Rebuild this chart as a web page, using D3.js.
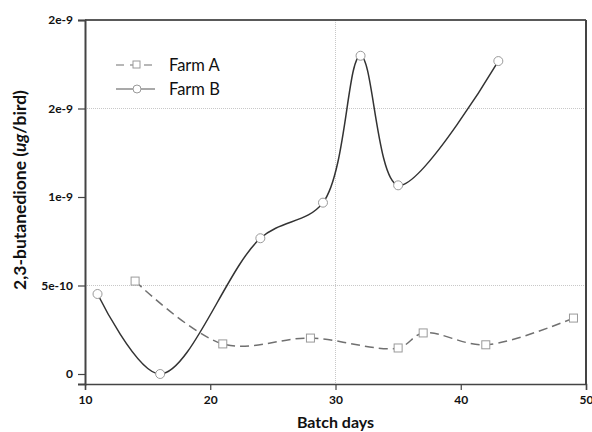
<!DOCTYPE html>
<html>
<head>
<meta charset="utf-8">
<script src="https://cdn.jsdelivr.net/npm/d3@7"></script>
<style>
  body { margin: 0; background: #fff; }
  text { font-family: Lato, 'Open Sans', sans-serif; }
</style>
</head>
<body>
<div id="chart"></div>
<script>
// Data
const farmADays = [14, 21, 28, 35, 37, 42, 49]
const farmAValues = [5.25e-10, 1.7e-10, 2.03e-10, 1.47e-10, 2.32e-10, 1.65e-10, 3.16e-10]
const farmBDays = [11, 16, 24, 29, 32, 35, 43]
const farmBValues = [4.52e-10, 0, 7.67e-10, 9.68e-10, 1.798e-9, 1.066e-9, 1.768e-9]
const xTicks = [10, 20, 30, 40, 50]
const yTicks = [0, 5e-10, 1e-9, 1.5e-9, 2e-9]
const yTickLabels = ['0', '5e-10', '1e-9', '2e-9', '2e-9']
const seriesNames = ['Farm A', 'Farm B']

// Our canvas
const width = 592,
  height = 432
const plotLeft = 85, plotRight = 586, plotTop = 20, plotBottom = 384

let svg = d3.select('#chart')
  .append('svg')
  .attr('width', width)
  .attr('height', height)

const xScale = d3.scaleLinear()
  .domain([10, 50])
  .range([plotLeft, plotRight])

const yScale = d3.scaleLinear()
  .domain([-5.65e-11, 2e-9])
  .range([plotBottom, plotTop])

// grid lines (only a few in the original)
svg.append('line')
  .attr('x1', xScale(30)).attr('x2', xScale(30))
  .attr('y1', plotTop).attr('y2', plotBottom)
  .attr('stroke', '#c8c8c8').attr('stroke-dasharray', '1,1')
;[5e-10, 1.5e-9].forEach(v => {
  svg.append('line')
    .attr('x1', plotLeft).attr('x2', plotRight)
    .attr('y1', yScale(v)).attr('y2', yScale(v))
    .attr('stroke', '#c8c8c8').attr('stroke-dasharray', '1,1')
})

// frame
svg.append('line')
  .attr('x1', plotLeft).attr('x2', plotRight)
  .attr('y1', plotTop).attr('y2', plotTop)
  .attr('stroke', '#222').attr('stroke-width', 1.5)
svg.append('line')
  .attr('x1', plotRight).attr('x2', plotRight)
  .attr('y1', plotTop).attr('y2', plotBottom)
  .attr('stroke', '#444').attr('stroke-width', 2)

// axes
const xAxis = d3.axisBottom(xScale)
  .tickValues(xTicks)
  .tickSize(6)
  .tickPadding(5)
  .tickFormat(d3.format('d'))

const yAxis = d3.axisLeft(yScale)
  .tickValues(yTicks)
  .tickSize(7)
  .tickPadding(5)
  .tickFormat((d, i) => yTickLabels[i])

let xAxisGroup = svg.append('g')
  .attr('transform', `translate(0, ${plotBottom})`)
  .call(xAxis)
let yAxisGroup = svg.append('g')
  .attr('transform', `translate(${plotLeft}, 0)`)
  .call(yAxis)

xAxisGroup.select('.domain').attr('stroke', '#444').attr('stroke-width', 1.5)
yAxisGroup.select('.domain').attr('stroke', '#444').attr('stroke-width', 2)
svg.selectAll('.tick line').attr('stroke', '#444').attr('stroke-width', 1.2)
svg.selectAll('.tick text')
  .attr('fill', '#111')
  .style('font-size', '12px')
  .style('font-weight', 'bold')

// axis titles
svg.append('text')
  .attr('x', (plotLeft + plotRight) / 2)
  .attr('y', 428)
  .attr('text-anchor', 'middle')
  .style('font-size', '16px')
  .style('font-weight', 'bold')
  .attr('fill', '#111')
  .text('Batch days')

let yTitle = svg.append('text')
  .attr('transform', 'translate(26, 190) rotate(-90)')
  .attr('text-anchor', 'middle')
  .style('font-size', '17.5px')
  .style('font-weight', 'bold')
  .attr('fill', '#111')
yTitle.append('tspan').text('2,3-butanedione (')
yTitle.append('tspan').style('font-style', 'italic').text('ug')
yTitle.append('tspan').text('/bird)')

// lines
const line = d3.line()
  .x(d => xScale(d[0]))
  .y(d => yScale(d[1]))
  .curve(d3.curveCatmullRom.alpha(0.5))

const farmA = farmADays.map((d, i) => [d, farmAValues[i]])
const farmB = farmBDays.map((d, i) => [d, farmBValues[i]])

svg.append('path')
  .datum(farmA)
  .attr('d', line)
  .attr('fill', 'none')
  .attr('stroke', '#707070')
  .attr('stroke-width', 1.5)
  .attr('stroke-dasharray', '9,5')

svg.append('path')
  .datum(farmB)
  .attr('d', line)
  .attr('fill', 'none')
  .attr('stroke', '#333')
  .attr('stroke-width', 1.5)

// markers
svg.selectAll('rect.farmA')
  .data(farmA)
  .enter()
  .append('rect')
  .attr('class', 'farmA')
  .attr('x', d => xScale(d[0]) - 4)
  .attr('y', d => yScale(d[1]) - 4)
  .attr('width', 8)
  .attr('height', 8)
  .attr('fill', '#fff')
  .attr('stroke', '#9a9a9a')

svg.selectAll('circle.farmB')
  .data(farmB)
  .enter()
  .append('circle')
  .attr('class', 'farmB')
  .attr('cx', d => xScale(d[0]))
  .attr('cy', d => yScale(d[1]))
  .attr('r', 4.5)
  .attr('fill', '#fff')
  .attr('stroke', '#9a9a9a')

// legend
const legend = svg.append('g')
seriesNames.forEach((name, i) => {
  const ly = 65 + i * 24
  legend.append('line')
    .attr('x1', 116).attr('x2', 155)
    .attr('y1', ly).attr('y2', ly)
    .attr('stroke', i === 0 ? '#707070' : '#555')
    .attr('stroke-width', 1.2)
    .attr('stroke-dasharray', i === 0 ? '8,6' : null)
  if (i === 0) {
    legend.append('rect')
      .attr('x', 133).attr('y', ly - 4)
      .attr('width', 7).attr('height', 7)
      .attr('fill', '#fff').attr('stroke', '#9a9a9a')
  } else {
    legend.append('circle')
      .attr('cx', 137).attr('cy', ly)
      .attr('r', 4)
      .attr('fill', '#fff').attr('stroke', '#9a9a9a')
  }
  legend.append('text')
    .attr('x', 169)
    .attr('y', ly + 6)
    .style('font-size', '16.5px')
    .attr('fill', '#111')
    .text(name)
})
</script>
</body>
</html>
